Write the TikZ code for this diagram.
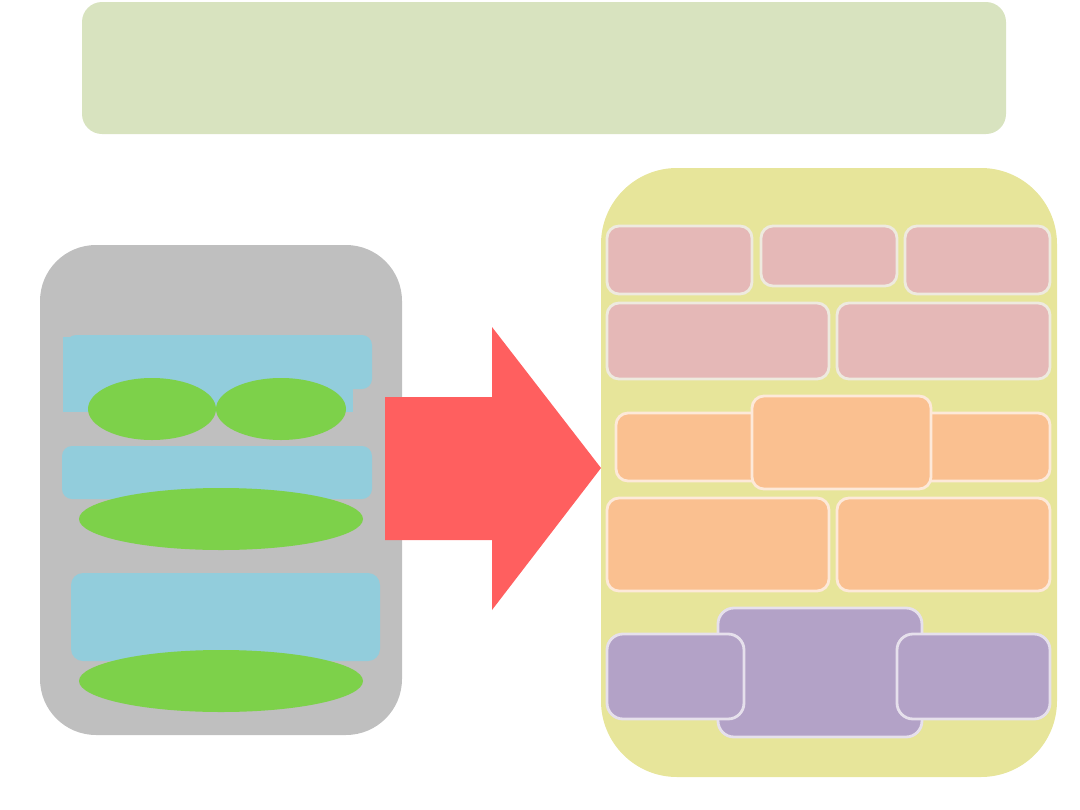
\documentclass[tikz,border=0pt]{standalone}
\usepackage{tikz}

\definecolor{bannergreen}{RGB}{216,227,191}
\definecolor{panelgray}{RGB}{191,191,191}
\definecolor{layerblue}{RGB}{146,205,220}
\definecolor{blobgreen}{RGB}{125,209,74}
\definecolor{arrowred}{RGB}{255,95,95}
\definecolor{paneyellow}{RGB}{231,229,154}
\definecolor{cellpink}{RGB}{229,184,183}
\definecolor{cellorange}{RGB}{250,192,144}
\definecolor{cellpurple}{RGB}{179,162,199}

\begin{document}
\begin{tikzpicture}[x=0.025cm,y=-0.025cm,
    pinkcell/.style={fill=cellpink,draw={rgb,255:red,238;green,234;blue,223},line width=2pt,rounded corners=0.3cm},
    orangecell/.style={fill=cellorange,draw={rgb,255:red,253;green,233;blue,217},line width=2pt,rounded corners=0.3cm},
    purplecell/.style={fill=cellpurple,draw={rgb,255:red,230;green,224;blue,236},line width=2pt,rounded corners=0.4cm}]
  \useasboundingbox (0,0) rectangle (1080,810);
  % top banner
  \fill[bannergreen,rounded corners=0.5cm] (82,2) rectangle (1006,134);
  % left panel
  \fill[panelgray,rounded corners=1.4cm] (40,245) rectangle (402,735);
  \fill[layerblue,rounded corners=0.25cm] (66,335) rectangle (372,389);
  \fill[layerblue] (63,337) rectangle (353,412);
  \fill[layerblue,rounded corners=0.25cm] (62,446) rectangle (372,499);
  \fill[layerblue,rounded corners=0.3cm] (71,573) rectangle (380,661);
  \foreach \cx/\cy/\rx in {152/409/64,281/409/65,221/519/142,221/681/142}
    \fill[blobgreen] (\cx,\cy) ellipse [x radius=\rx, y radius=31];
  % arrow
  \fill[arrowred] (385,397) -- (492,397) -- (492,327) -- (601,468)
    -- (492,610) -- (492,540) -- (385,540) -- cycle;
  % right panel
  \fill[paneyellow,rounded corners=1.9cm] (601,168) rectangle (1057,777);
  \foreach \xa/\ya/\xb/\yb in {607/226/752/294,761/226/897/286,905/226/1050/294,
      607/303/829/379,837/303/1050/379}
    \draw[pinkcell] (\xa,\ya) rectangle (\xb,\yb);
  \foreach \xa/\ya/\xb/\yb in {616/413/820/481,860/413/1050/481,752/396/931/489,
      607/498/829/591,837/498/1050/591}
    \draw[orangecell] (\xa,\ya) rectangle (\xb,\yb);
  \foreach \xa/\ya/\xb/\yb in {718/608/922/737,607/634/744/719,897/634/1050/719}
    \draw[purplecell] (\xa,\ya) rectangle (\xb,\yb);
\end{tikzpicture}
\end{document}
